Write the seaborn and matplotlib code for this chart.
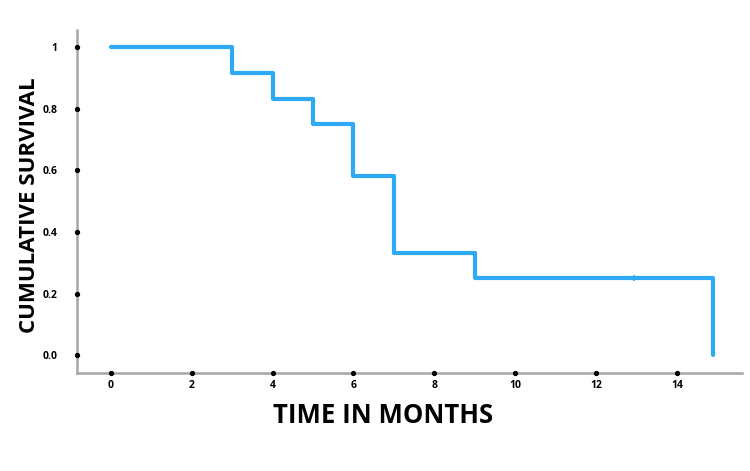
import matplotlib
matplotlib.use("Agg")
import matplotlib.pyplot as plt
import seaborn as sns
import pandas as pd

# Data
time_months = [0, 3, 4, 5, 6, 7, 9, 14.9]
cum_survival = [1.0, 0.917, 0.833, 0.75, 0.583, 0.333, 0.25, 0.0]
censor_times = [12.95]
censor_surv = [0.25]
x_ticks = [0, 2, 4, 6, 8, 10, 12, 14]
y_ticks = [0.0, 0.2, 0.4, 0.6, 0.8, 1.0]
y_tick_labels = ["0.0", "0.2", "0.4", "0.6", "0.8", "1"]

sns.set_style("white")
plt.rcParams["font.family"] = ["Open Sans", "DejaVu Sans"]
plt.rcParams["text.color"] = "black"

fig = plt.figure(figsize=(7.5, 4.71), dpi=100)
ax = fig.add_axes([0.1027, 0.208, 0.886, 0.728])

df = pd.DataFrame({"t": time_months, "s": cum_survival})
line_color = "#2EA9F6"
sns.lineplot(data=df, x="t", y="s", ax=ax, drawstyle="steps-post",
             color=line_color, linewidth=3.0, estimator=None, sort=False)
# censor mark
ax.plot(censor_times, censor_surv, marker="|", markersize=5, markeredgewidth=1.2,
        color=line_color, linestyle="none")

ax.set_xlim(-0.84, 15.6)
ax.set_ylim(-0.058, 1.055)

ax.set_xticks(x_ticks)
ax.set_xticklabels([str(v) for v in x_ticks], fontsize=7.5, fontweight="bold")
ax.set_yticks(y_ticks)
ax.set_yticklabels(y_tick_labels, fontsize=7.5, fontweight="bold")
ax.tick_params(axis="both", length=0, colors="black")
ax.tick_params(axis="x", pad=5)
ax.tick_params(axis="y", pad=14)

# dot tick markers on the spines
xl = ax.get_xlim()
yl = ax.get_ylim()
ax.plot(x_ticks, [yl[0]] * len(x_ticks), "o", color="black", markersize=2.8,
        clip_on=False, zorder=5)
ax.plot([xl[0]] * len(y_ticks), y_ticks, "o", color="black", markersize=2.8,
        clip_on=False, zorder=5)

for side in ["top", "right"]:
    ax.spines[side].set_visible(False)
for side in ["left", "bottom"]:
    ax.spines[side].set_color("#A6A6A6")
    ax.spines[side].set_linewidth(1.8)

ax.set_xlabel("TIME IN MONTHS", fontsize=18.5, fontweight="bold", color="black")
ax.set_ylabel("CUMULATIVE SURVIVAL", fontsize=16, fontweight="bold", color="black")
ax.xaxis.set_label_coords(0.46, -0.085)
ax.yaxis.set_label_coords(-0.056, 0.49)

fig.savefig("out.png", dpi=100, facecolor="white")
